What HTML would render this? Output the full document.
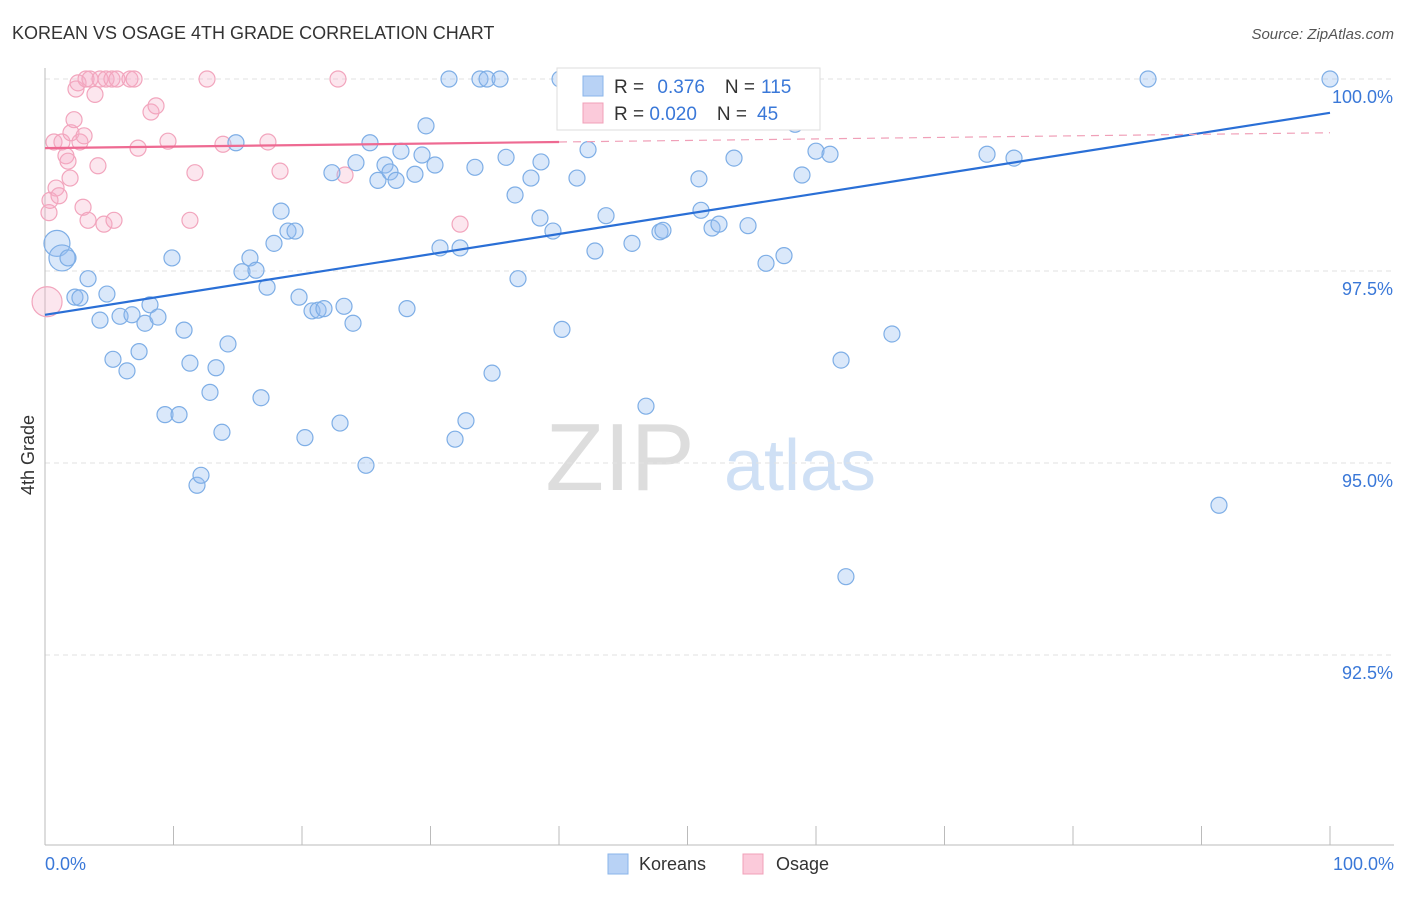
<!DOCTYPE html>
<html><head><meta charset="utf-8"><style>
body{margin:0;background:#fff;font-family:"Liberation Sans",sans-serif;}
svg text{font-family:"Liberation Sans",sans-serif;}
</style></head><body>
<svg id="chart" width="1406" height="892">
<text x="12" y="39" font-size="18" fill="#333">KOREAN VS OSAGE 4TH GRADE CORRELATION CHART</text>
<text x="1394" y="39" font-size="15" fill="#555" font-style="italic" text-anchor="end">Source: ZipAtlas.com</text>
<text x="620" y="490" font-size="96" fill="#ddd" font-family="Liberation Serif" text-anchor="middle">ZIP</text>
<text x="800" y="490" font-size="72" fill="#cfe0f5" text-anchor="middle">atlas</text>
<g id="grid"></g><g id="axes"></g><g id="pts"></g><g id="lines"></g>
<text transform="translate(34,455) rotate(-90)" font-size="18" fill="#333" text-anchor="middle">4th Grade</text>
<text x="45" y="870" font-size="18" fill="#3a78d8">0.0%</text>
<text x="1394" y="870" font-size="18" fill="#3a78d8" text-anchor="end">100.0%</text>
<g>
<rect x="557" y="68" width="263" height="62" fill="#fff" stroke="#ddd"/>
<rect x="583" y="76" width="20" height="20" fill="#b8d2f5" stroke="#8ab4ea"/>
<rect x="583" y="103" width="20" height="20" fill="#fbcada" stroke="#f0a0b8"/>
<text x="614" y="93" font-size="19" fill="#333">R = <tspan fill="#3a78d8" dx="8">0.376</tspan><tspan dx="20" fill="#333">N =</tspan><tspan dx="6" fill="#3a78d8">115</tspan></text>
<text x="614" y="120" font-size="19" fill="#333">R = <tspan fill="#3a78d8">0.020</tspan><tspan dx="20" fill="#333">N =</tspan><tspan dx="10" fill="#3a78d8">45</tspan></text>
</g>
<g>
<rect x="608" y="854" width="20" height="20" fill="#b8d2f5" stroke="#8ab4ea"/>
<text x="639" y="870" font-size="18" fill="#333">Koreans</text>
<rect x="743" y="854" width="20" height="20" fill="#fbcada" stroke="#f0a0b8"/>
<text x="776" y="870" font-size="18" fill="#333">Osage</text>
</g>
</svg>
<script>
const yTicks=[100,97.5,95,92.5];
const yTickLabels=["100.0%","97.5%","95.0%","92.5%"];
const xTicks=[0,10,20,30,40,50,60,70,80,90,100];
const koreanX=[0.93,1.32,1.79,2.33,2.72,3.35,4.28,4.82,5.29,5.84,6.38,6.77,7.32,7.78,8.17,8.79,9.34,9.88,10.43,10.82,11.28,11.83,12.14,12.84,13.31,13.77,14.24,14.86,15.33,15.95,16.42,16.81,17.28,17.82,18.37,18.91,19.46,19.77,20.23,20.78,21.25,21.71,22.33,22.96,23.27,23.97,24.2,24.98,25.29,25.91,26.46,26.85,27.32,27.7,28.17,28.79,29.34,29.65,30.35,30.74,31.44,31.91,32.3,32.76,33.46,33.85,34.4,34.79,35.41,35.88,36.58,36.81,37.82,38.52,38.6,39.53,40.08,40.23,40.54,41.4,42.26,42.8,43.66,45.68,46.77,47.08,47.86,48.09,48.95,50.19,50.89,51.05,51.91,52.45,53.62,54.47,54.71,56.11,57.51,57.98,58.37,58.91,60,61.09,61.95,62.33,65.91,73.31,75.41,85.84,91.36,100];
const koreanY=[97.86,97.67,97.67,97.16,97.15,97.4,96.86,97.2,96.35,96.91,96.2,96.93,96.45,96.82,97.06,96.9,95.63,97.67,95.63,96.73,96.3,94.71,94.84,95.92,96.24,95.4,96.55,99.17,97.49,97.67,97.51,95.85,97.29,97.86,98.28,98.02,98.02,97.16,95.33,96.98,96.99,97.01,98.78,95.52,97.04,96.82,98.91,94.97,99.17,98.68,98.88,98.79,98.68,99.06,97.01,98.76,99.01,99.39,98.88,97.8,100,95.31,97.8,95.55,98.85,100,100,96.17,100,98.98,98.49,97.4,98.71,98.19,98.92,98.02,100,96.74,100,98.71,99.08,97.76,98.22,97.86,95.74,100,98.01,98.03,100,100,98.7,98.29,98.06,98.11,98.97,100,98.09,97.6,97.7,100,99.41,98.75,99.06,99.02,96.34,93.52,96.68,99.02,98.97,100,94.45,100];
const koreanBig=[0,1];
const osageX=[0.16,0.31,0.39,0.7,0.86,1.09,1.32,1.63,1.79,1.95,2.02,2.26,2.41,2.57,2.72,2.96,3.04,3.19,3.35,3.5,3.89,4.12,4.28,4.59,4.75,5.21,5.37,5.6,6.61,6.93,7.24,8.25,8.64,9.57,11.28,11.67,12.61,13.85,17.35,18.29,22.8,23.35,32.3];
const osageY=[97.1,98.26,98.42,99.18,98.58,98.48,99.18,99,98.93,98.71,99.3,99.47,99.87,99.95,99.18,98.33,99.26,100,98.16,100,99.8,98.87,100,98.11,100,100,98.16,100,100,100,99.1,99.57,99.65,99.19,98.16,98.78,100,99.15,99.18,98.8,100,98.75,98.11];
const koreanTrend=[96.93,99.56];
const osageTrend=[99.10,99.30];
const X=v=>45+v*12.85, Y=v=>79+(100-v)*76.8;
const NS="http://www.w3.org/2000/svg";
function mk(tag,attrs,parent){const e=document.createElementNS(NS,tag);for(const k in attrs)e.setAttribute(k,attrs[k]);document.getElementById(parent).appendChild(e);return e;}
yTicks.forEach((t,i)=>{
 const l=mk('line',{x1:45,x2:1394,y1:Y(t),y2:Y(t),stroke:'#e2e2e2','stroke-dasharray':'5,4'},'grid');
 
 
 const tx=mk('text',{x:1393,y:Y(t)+24,'font-size':18,fill:'#3a78d8','text-anchor':'end'},'grid');
 tx.textContent=yTickLabels[i];
 
 
});
const ax=mk('line',{x1:45,x2:45,y1:68,y2:845,stroke:'#bbb'},'axes');


const bx=mk('line',{x1:45,x2:1394,y1:845,y2:845,stroke:'#bbb'},'axes');


xTicks.forEach(t=>{const l=mk('line',{x1:X(t),x2:X(t),y1:826,y2:845,stroke:'#bbb'},'axes');
 
 });
osageX.forEach((x,i)=>{const r=i===0?15:8;
 const c=mk('circle',{cx:X(x),cy:Y(osageY[i]),r:r,fill:'rgba(246,172,198,0.3)',stroke:'#f2a5bd','stroke-width':1.2},'pts');
 
 });
koreanX.forEach((x,i)=>{const r=koreanBig.includes(i)?13:8;
 const c=mk('circle',{cx:X(x),cy:Y(koreanY[i]),r:r,fill:'rgba(150,190,240,0.35)',stroke:'#7eaee6','stroke-width':1.2},'pts');
 
 });
const kl=mk('line',{x1:X(0),y1:Y(koreanTrend[0]),x2:X(100),y2:Y(koreanTrend[1]),stroke:'#2a6fd6','stroke-width':2.2},'lines');


const om=osageTrend[0]+(osageTrend[1]-osageTrend[0])*0.4;
const ol=mk('line',{x1:X(0),y1:Y(osageTrend[0]),x2:X(40),y2:Y(om),stroke:'#ee6a92','stroke-width':2.2},'lines');


const od=mk('line',{x1:X(40),y1:Y(om),x2:X(100),y2:Y(osageTrend[1]),stroke:'#f0a0b8','stroke-width':1.2,'stroke-dasharray':'8,6'},'lines');


</script>
</body></html>
